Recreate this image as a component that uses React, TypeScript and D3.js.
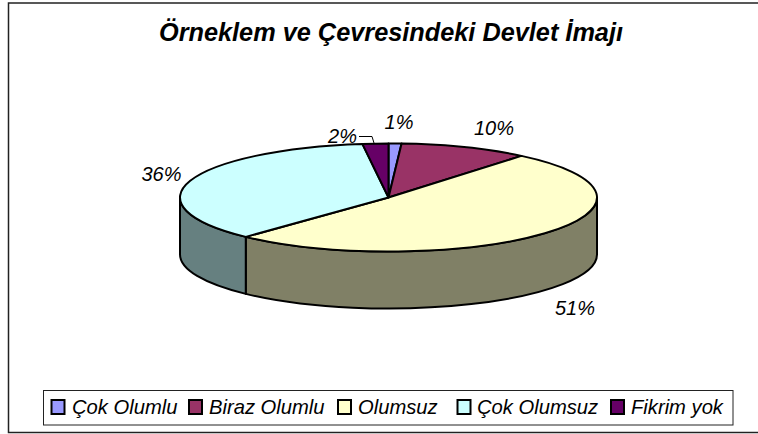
import * as React from "react";
import * as d3 from "d3";

const categories = ["Çok Olumlu", "Biraz Olumlu", "Olumsuz", "Çok Olumsuz", "Fikrim yok"];
const values = [1, 10, 51, 36, 2];
const topColors = ["#9999FF", "#993366", "#FFFFCC", "#CCFFFF", "#660066"];
const sideColors = ["#4D4D80", "#4D1A33", "#808066", "#668080", "#330033"];
const labelPos = [[399, 129], [494, 135], [575, 315], [161.5, 181], [342.5, 143]];
const legendX = [51.5, 189, 338, 457.5, 611];
const legendTextX = [72, 209, 358, 477, 631];

const width = 758;
const height = 434;
const cx = 388.5;
const cy = 197.5;
const rx = 208.5;
const ry = 54;
const depth = 57;
const fontFamily = "'Liberation Sans', Arial, sans-serif";

const pt = (a: number, dy = 0) => [cx + rx * Math.sin(a), cy - ry * Math.cos(a) + dy];

// outer wall of a slice, only the part facing the viewer (90deg to 270deg)
function wallPath(a0: number, a1: number) {
  const s = Math.max(a0, Math.PI / 2);
  const e = Math.min(a1, (3 * Math.PI) / 2);
  if (s >= e) return null;
  const [x0, y0] = pt(s);
  const [x1, y1] = pt(e);
  const [x2, y2] = pt(e, depth);
  const [x3, y3] = pt(s, depth);
  return `M${x0},${y0}A${rx},${ry} 0 0 1 ${x1},${y1}L${x2},${y2}A${rx},${ry} 0 0 0 ${x3},${y3}Z`;
}

export default function App() {
  const slices = d3.pie<number>().sort(null)(values);
  const arc = d3.arc<d3.PieArcDatum<number>>().innerRadius(0).outerRadius(rx);

  return (
    <svg
      width={width}
      height={height}
      style={{ position: "absolute", left: 0, top: 0, background: "#fff" }}
      fontFamily={fontFamily}
    >
      {/* frame runs off the right edge, as in the source image */}
      <rect x={8.5} y={3} width={760} height={429.5} fill="#fff" stroke="#222" strokeWidth={1.5} />
      <text x={391} y={41} textAnchor="middle" fontSize={25.3} fontWeight="bold" fontStyle="italic">
        Örneklem ve Çevresindeki Devlet İmajı
      </text>

      {slices.map((s, i) => {
        const d = wallPath(s.startAngle, s.endAngle);
        return d ? <path key={i} d={d} fill={sideColors[i]} stroke="#000" strokeWidth={2} strokeLinejoin="round" /> : null;
      })}
      <g transform={`translate(${cx},${cy}) scale(1,${ry / rx})`}>
        {slices.map((s, i) => (
          <path
            key={i}
            d={arc(s) as string}
            fill={topColors[i]}
            stroke="#000"
            strokeWidth={2}
            strokeLinejoin="round"
            vectorEffect="non-scaling-stroke"
          />
        ))}
      </g>

      <polyline points="359,136.5 372,136.5 374,143" fill="none" stroke="#000" strokeWidth={1} />
      {values.map((v, i) => (
        <text key={i} x={labelPos[i][0]} y={labelPos[i][1]} textAnchor="middle" fontSize={20} fontStyle="italic">
          {v}%
        </text>
      ))}

      <rect x={43.5} y={390.5} width={689.5} height={34.5} fill="#fff" stroke="#222" strokeWidth={1} />
      {categories.map((c, i) => (
        <g key={c}>
          <rect x={legendX[i]} y={400} width={13} height={14} fill={topColors[i]} stroke="#000" strokeWidth={2} />
          <text x={legendTextX[i]} y={413.5} fontSize={20.2} fontStyle="italic">
            {c}
          </text>
        </g>
      ))}
    </svg>
  );
}
